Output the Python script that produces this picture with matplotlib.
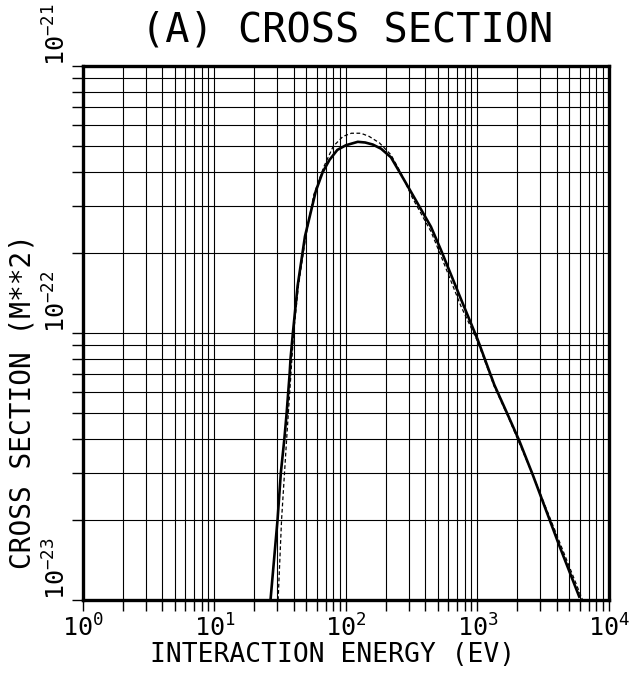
import numpy as np
import matplotlib.pyplot as plt
from matplotlib.ticker import LogLocator, NullFormatter, FixedLocator

# solid curve (energy in eV, cross section in m**2)
solid_E = [26.7, 30.2, 32.0, 34.0, 35.4, 36.4, 37.3, 37.9, 39.5, 42.9, 48.8,
           59.0, 66.5, 75.0, 86.0, 100.0, 123.0, 140.0, 160.0, 185.0, 220.0,
           260.0, 321.0, 443.0, 527.0, 749.0, 1003.0, 1343.0, 1698.0, 2080.0,
           2630.0, 4190.0, 5940.0]
solid_sig = [1.0e-23, 2.0e-23, 3.0e-23, 4.0e-23, 5.0e-23, 6.0e-23, 7.0e-23,
             8.0e-23, 1.0e-22, 1.5e-22, 2.3e-22, 3.4e-22, 4.0e-22, 4.45e-22,
             4.85e-22, 5.05e-22, 5.2e-22, 5.17e-22, 5.08e-22, 4.9e-22, 4.55e-22,
             3.95e-22, 3.3e-22, 2.5e-22, 2.05e-22, 1.34e-22, 9.46e-23, 6.4e-23,
             4.95e-23, 3.95e-23, 2.95e-23, 1.6e-23, 1.03e-23]

# dashed curve
dash_E = [30.5, 32.4, 35.4, 40.0, 43.5, 49.5, 57.0, 68.0, 80.0, 95.0, 110.0,
          130.0, 150.0, 180.0, 220.0, 260.0, 321.0, 443.0, 527.0, 749.0,
          1003.0, 1343.0, 1698.0, 2630.0, 4190.0, 6300.0]
dash_sig = [1.0e-23, 2.0e-23, 4.0e-23, 1.0e-22, 1.5e-22, 2.3e-22, 3.3e-22,
            4.2e-22, 5.0e-22, 5.45e-22, 5.6e-22, 5.6e-22, 5.45e-22, 5.15e-22,
            4.65e-22, 4.0e-22, 3.2e-22, 2.4e-22, 1.95e-22, 1.26e-22, 9.3e-23,
            6.3e-23, 4.9e-23, 2.95e-23, 1.66e-23, 1.0e-23]

x_major = [1e0, 1e1, 1e2, 1e3, 1e4]
x_labels = [r'$10^{0}$', r'$10^{1}$', r'$10^{2}$', r'$10^{3}$', r'$10^{4}$']
y_major = [1e-23, 1e-22, 1e-21]
y_labels = [r'$10^{-23}$', r'$10^{-22}$', r'$10^{-21}$']

plt.rcParams['font.family'] = ['DejaVu Sans Mono', 'DejaVu Sans']
plt.rcParams['mathtext.fontset'] = 'custom'
plt.rcParams['mathtext.rm'] = 'DejaVu Sans Mono'
plt.rcParams['mathtext.it'] = 'DejaVu Sans Mono'

fig = plt.figure(figsize=(6.33, 6.79), dpi=100)
ax = fig.add_axes([0.131, 0.1163, 0.831, 0.7865])

ax.set_xscale('log')
ax.set_yscale('log')
ax.set_xlim(1e0, 1e4)
ax.set_ylim(1e-23, 1e-21)

ax.xaxis.set_major_locator(FixedLocator(x_major))
ax.yaxis.set_major_locator(FixedLocator(y_major))
ax.xaxis.set_minor_locator(LogLocator(base=10, subs=np.arange(2, 10), numticks=20))
ax.yaxis.set_minor_locator(LogLocator(base=10, subs=np.arange(2, 10), numticks=20))
ax.xaxis.set_minor_formatter(NullFormatter())
ax.yaxis.set_minor_formatter(NullFormatter())
ax.set_xticklabels(x_labels, fontsize=18)
ax.set_yticklabels(y_labels, fontsize=18, rotation=90, va='bottom')

ax.tick_params(which='both', direction='out', length=8, width=1.0,
               color='black', top=False, right=False)
ax.tick_params(axis='x', pad=2)
ax.tick_params(axis='y', pad=1)

ax.grid(True, which='both', color='black', linewidth=0.8)
for s in ax.spines.values():
    s.set_linewidth(2.4)

ax.plot(solid_E, solid_sig, color='black', linewidth=1.9, zorder=4)
ax.plot(dash_E, dash_sig, color='black', linewidth=0.9, linestyle=(0, (3, 2)),
        zorder=3)

fig.text(0.548, 0.955, '(A) CROSS SECTION', fontsize=29, ha='center',
         va='center')
fig.text(0.526, 0.036, 'INTERACTION ENERGY (EV)', fontsize=19, ha='center',
         va='center')
fig.text(0.035, 0.408, 'CROSS SECTION (M**2)', fontsize=20, ha='center',
         va='center', rotation=90)

fig.savefig('out.png', dpi=100)
